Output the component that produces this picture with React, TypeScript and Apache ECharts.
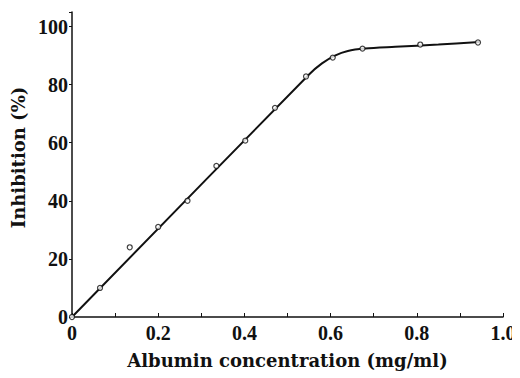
import React, { useEffect, useRef } from "react";
import * as echarts from "echarts";

const obsX = [0, 0.065, 0.134, 0.2, 0.268, 0.335, 0.402, 0.471, 0.543, 0.605, 0.674, 0.808, 0.942];
const obsY = [0, 10, 24, 31, 40, 52, 60.7, 72, 82.8, 89.3, 92.4, 93.8, 94.5];
const curveX = [0, 0.55, 0.58, 0.61, 0.64, 0.68, 0.75, 0.85, 0.945];
const curveY = [0, 83.5, 87.3, 90.0, 91.6, 92.4, 93.0, 93.8, 94.7];
const xTicks = ["0", "0.2", "0.4", "0.6", "0.8", "1.0"];
const yTicks = ["0", "20", "40", "60", "80", "100"];

const TICK_FONT = "'Liberation Serif', 'DejaVu Serif', serif";
const NAME_FONT = "'DejaVu Serif', 'Liberation Serif', serif";

export default function App() {
  const ref = useRef<HTMLDivElement>(null);
  useEffect(() => {
    if (!ref.current) return;
    const chart = echarts.init(ref.current, undefined, { renderer: "svg" });
    chart.setOption({
      animation: false,
      backgroundColor: "#ffffff",
      grid: { left: 64, right: 17, top: 4, bottom: 61, outerBoundsMode: "none", containLabel: false },
      xAxis: {
        type: "value",
        min: 0,
        max: 1,
        interval: 0.2,
        name: "Albumin concentration (mg/ml)",
        nameLocation: "middle",
        nameGap: 34,
        nameTextStyle: { fontFamily: NAME_FONT, fontWeight: "bold", fontSize: 18, color: "#111" },
        axisLine: { lineStyle: { color: "#111", width: 1.5 } },
        axisTick: { inside: true, length: 4, lineStyle: { color: "#111" } },
        minorTick: { show: true, splitNumber: 2, length: 4, lineStyle: { color: "#111" } },
        splitLine: { show: false },
        axisLabel: {
          fontFamily: TICK_FONT,
          fontWeight: "bold",
          fontSize: 20,
          color: "#111",
          margin: 6,
          formatter: (v: number) => {
            const i = Math.round(v / 0.2);
            return Math.abs(v - i * 0.2) < 1e-6 ? xTicks[i] ?? "" : "";
          },
        },
      },
      yAxis: {
        type: "value",
        min: 0,
        max: 105,
        interval: 20,
        name: "Inhibition (%)",
        nameLocation: "middle",
        nameGap: 38,
        nameRotate: 90,
        nameTextStyle: {
          fontFamily: NAME_FONT,
          fontWeight: "bold",
          fontSize: 18,
          color: "#111",
          padding: [0, 0, 0, 14],
        },
        axisLine: { show: true, lineStyle: { color: "#111", width: 1.5 } },
        axisTick: { show: true, length: 3, lineStyle: { color: "#111" } },
        splitLine: { show: false },
        axisLabel: {
          fontFamily: TICK_FONT,
          fontWeight: "bold",
          fontSize: 20,
          color: "#111",
          margin: 4,
          formatter: (v: number) => {
            const i = Math.round(v / 20);
            return Math.abs(v - i * 20) < 1e-6 ? yTicks[i] ?? "" : "";
          },
        },
      },
      series: [
        {
          type: "line",
          data: curveX.map((x, i) => [x, curveY[i]]),
          smooth: 0.3,
          showSymbol: false,
          symbol: "none",
          lineStyle: { color: "#111", width: 2 },
          z: 2,
        },
        {
          type: "scatter",
          data: obsX.map((x, i) => [x, obsY[i]]),
          symbol: "circle",
          symbolSize: 5,
          itemStyle: { color: "#ffffff", borderColor: "#111", borderWidth: 1.2 },
          z: 3,
        },
      ],
    });
    return () => chart.dispose();
  }, []);
  return <div ref={ref} style={{ width: 512, height: 370 }} />;
}
